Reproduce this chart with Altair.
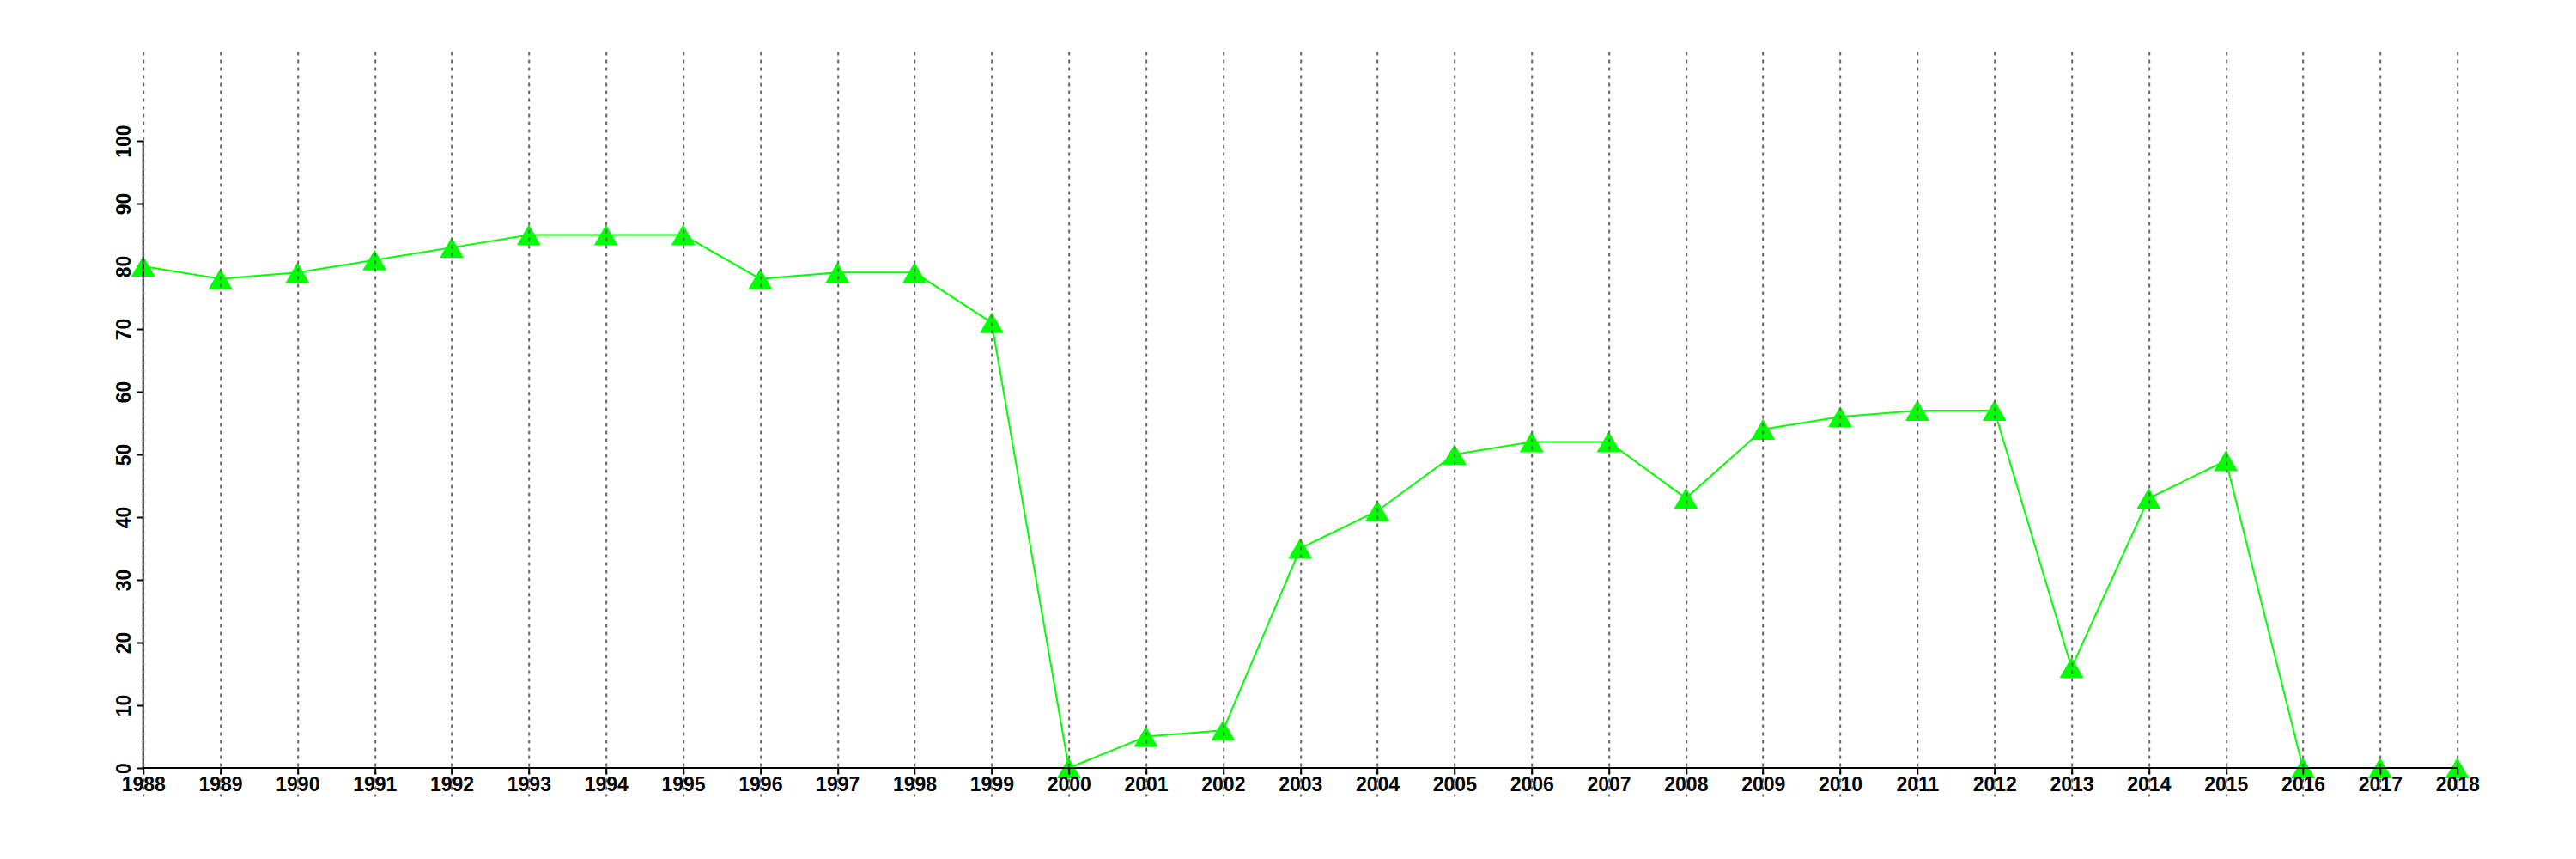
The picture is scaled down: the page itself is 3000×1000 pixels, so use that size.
import altair as alt
import pandas as pd

years = list(range(1988, 2019))
values = [80, 78, 79, 81, 83, 85, 85, 85, 78, 79, 79, 71, 0, 5, 6, 35, 41, 50,
          52, 52, 43, 54, 56, 57, 57, 16, 43, 49, 0, 0, 0]
y_ticks = [0, 10, 20, 30, 40, 50, 60, 70, 80, 90, 100]
y_axis_extent = [0, 100]

df = pd.DataFrame({"year": years, "value": values})

x_scale = alt.Scale(domain=[1988, 2018], nice=False, zero=False)
y_scale = alt.Scale(domain=[-4.52, 114.25], nice=False, zero=False)

FONT = "Liberation Sans"

x_axis = alt.Axis(
    values=years, format="d", title=None,
    grid=True, gridDash=[4, 5], gridColor="#666666", gridWidth=2,
    domain=False,
    tickColor="black", tickWidth=2, tickSize=7,
    labelFont=FONT, labelFontSize=23, labelFontWeight="bold", labelColor="black",
    labelPadding=2, labelFlush=False, labelOverlap=False,
    offset=-33, zindex=1,
)
y_axis = alt.Axis(
    values=y_ticks, title=None, grid=False, domain=False,
    tickColor="black", tickWidth=2, tickSize=8,
    labelFont=FONT, labelFontSize=23, labelFontWeight="bold", labelColor="black",
    labelAngle=270, labelAlign="center", labelBaseline="alphabetic",
    labelPadding=7, labelFlush=False, labelOverlap=False,
)

base = alt.Chart(df)
line = base.mark_line(color="#00ff00", strokeWidth=2).encode(
    x=alt.X("year:Q", scale=x_scale, axis=x_axis),
    y=alt.Y("value:Q", scale=y_scale, axis=y_axis),
)
points = base.mark_point(shape="triangle-up", filled=True, color="#00ff00",
                         size=780, opacity=1).encode(
    x=alt.X("year:Q", scale=x_scale),
    y=alt.Y("value:Q", scale=y_scale),
)
yaxis_df = pd.DataFrame({"x": [years[0]], "y": [y_axis_extent[0]], "y2": [y_axis_extent[1]]})
yaxis_line = alt.Chart(yaxis_df).mark_rule(color="black", strokeWidth=2).encode(
    x=alt.X("x:Q", scale=x_scale),
    y=alt.Y("y:Q", scale=y_scale),
    y2="y2:Q",
)
xaxis_df = pd.DataFrame({"x": [years[0]], "x2": [years[-1]], "y": [y_axis_extent[0]]})
xaxis_line = alt.Chart(xaxis_df).mark_rule(color="black", strokeWidth=2).encode(
    x=alt.X("x:Q", scale=x_scale),
    x2="x2:Q",
    y=alt.Y("y:Q", scale=y_scale),
)

chart = alt.layer(line, points, yaxis_line, xaxis_line).properties(
    width=2695, height=867,
    padding={"left": 158.7, "top": 52, "right": 100, "bottom": 60},
    autosize="none",
    background="white",
).configure_view(stroke=None)

chart.save("out.html", embed_options={"renderer": "svg", "actions": False})
